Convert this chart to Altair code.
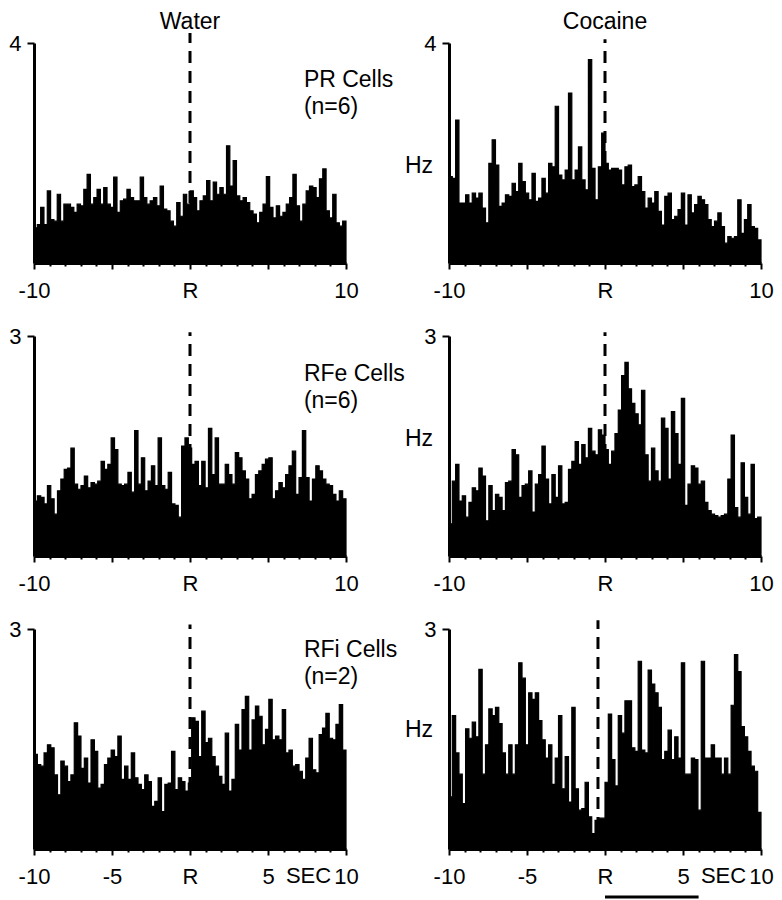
import altair as alt
import pandas as pd

# ---------------- data (firing rate in Hz per bin) ----------------
water_pr = [0.64, 0.70, 1.01, 0.70, 1.31, 0.79, 0.76, 1.25, 0.76, 1.07,
            1.07, 1.01, 0.92, 1.07, 1.04, 1.34, 1.61, 1.07, 1.19, 1.34,
            1.07, 1.37, 1.07, 1.01, 1.56, 0.92, 1.13, 1.16, 1.34, 1.19,
            1.13, 1.13, 1.56, 1.19, 1.07, 1.13, 1.19, 1.04, 1.40, 0.98,
            0.95, 0.76, 0.67, 1.10, 0.85, 1.25, 1.07, 1.31, 1.19, 0.95,
            1.13, 1.22, 1.50, 1.13, 1.47, 1.25, 1.37, 1.25, 2.13, 1.40,
            1.86, 1.22, 1.13, 1.19, 1.10, 0.95, 0.89, 0.73, 0.92, 1.07,
            1.57, 1.01, 0.82, 1.04, 0.85, 0.92, 1.07, 1.19, 1.61, 1.04,
            0.76, 1.07, 1.31, 1.40, 1.37, 1.19, 1.53, 1.71, 0.95, 0.82,
            1.25, 0.73, 0.67, 0.76]

cocaine_pr = [1.57, 1.54, 2.60, 1.09, 1.09, 1.24, 1.09, 1.27, 1.18, 1.27,
              1.00, 0.73, 1.81, 2.24, 1.78, 1.03, 1.09, 1.24, 1.21, 1.45,
              1.30, 1.81, 1.48, 1.27, 1.15, 1.63, 1.12, 1.18, 1.54, 1.27,
              1.81, 1.75, 2.85, 1.60, 1.51, 1.69, 3.09, 1.51, 1.69, 2.11,
              1.51, 1.33, 3.70, 1.72, 1.15, 1.75, 2.36, 1.81, 1.69, 1.72,
              1.72, 1.69, 1.42, 1.75, 1.78, 1.39, 1.42, 1.57, 1.30, 1.00,
              1.18, 1.09, 1.30, 0.94, 0.69, 1.21, 1.27, 0.79, 0.85, 0.97,
              1.27, 0.69, 1.24, 0.91, 1.06, 1.21, 1.15, 1.06, 0.79, 0.66,
              0.76, 0.91, 0.66, 0.36, 0.48, 0.45, 0.48, 1.15, 0.54, 0.79,
              1.06, 0.66, 0.63, 0.42]

water_rfe = [0.75, 0.82, 0.80, 0.71, 0.96, 0.78, 0.57, 0.89, 1.05, 1.18,
             1.20, 1.47, 0.98, 0.91, 0.96, 1.09, 0.93, 1.00, 0.98, 1.02,
             1.29, 1.18, 1.25, 1.61, 1.45, 0.98, 0.96, 0.98, 1.14, 0.87,
             1.71, 0.98, 1.34, 0.89, 1.02, 1.23, 0.96, 1.61, 0.96, 0.91,
             1.14, 0.71, 0.69, 0.53, 1.50, 1.61, 1.47, 1.25, 1.29, 0.96,
             1.29, 0.93, 1.74, 1.11, 1.61, 0.98, 0.98, 1.25, 1.11, 0.98,
             1.41, 1.34, 1.16, 1.05, 0.78, 0.84, 1.11, 1.16, 1.25, 1.32,
             1.34, 0.78, 0.89, 1.00, 0.93, 1.11, 1.23, 1.43, 0.84, 1.07,
             1.71, 1.07, 0.75, 1.05, 1.23, 1.16, 1.05, 0.98, 0.96, 0.84,
             0.75, 0.89, 0.78]

cocaine_rfe = [0.44, 1.02, 1.25, 0.75, 0.82, 0.53, 0.73, 0.93, 0.89, 1.20,
               1.09, 0.48, 0.96, 0.62, 0.84, 0.80, 0.62, 1.00, 1.02, 1.45,
               1.38, 0.80, 0.96, 0.98, 1.16, 0.60, 0.98, 1.11, 1.50, 1.05,
               0.71, 1.11, 0.80, 1.23, 0.71, 0.73, 1.18, 1.29, 1.56, 1.25,
               1.52, 1.34, 1.74, 1.43, 1.38, 1.72, 1.65, 1.45, 1.25, 1.43,
               1.67, 1.99, 2.46, 2.64, 2.28, 2.08, 1.94, 1.79, 2.26, 1.38,
               1.02, 1.47, 1.16, 1.02, 1.88, 1.74, 1.05, 1.97, 1.67, 1.25,
               2.15, 0.69, 0.98, 1.23, 1.20, 0.98, 1.02, 0.73, 0.62, 0.57,
               0.55, 0.53, 0.55, 0.57, 1.05, 1.65, 0.66, 0.53, 1.27, 0.80,
               0.57, 1.25, 0.51, 0.53]

water_rfi = [1.29, 1.15, 1.13, 1.31, 1.42, 1.38, 1.01, 0.74, 1.20, 1.13,
             0.92, 1.01, 1.72, 1.54, 1.10, 1.24, 0.90, 1.49, 1.33, 0.83,
             0.88, 1.15, 1.24, 1.35, 1.26, 1.54, 0.95, 1.13, 0.95, 1.31,
             0.97, 0.88, 0.81, 1.01, 0.92, 0.58, 0.65, 0.97, 0.51, 0.88,
             0.90, 1.33, 0.81, 0.97, 0.92, 0.79, 0.90, 1.79, 1.74, 1.26,
             1.88, 1.45, 1.51, 1.26, 1.13, 0.99, 0.88, 1.58, 0.79, 0.95,
             1.70, 1.35, 1.90, 2.08, 1.35, 1.76, 1.95, 1.81, 1.42, 1.63,
             2.04, 1.49, 1.54, 1.49, 1.90, 1.31, 1.35, 1.13, 1.15, 1.06,
             0.95, 1.24, 1.51, 1.08, 1.04, 1.56, 1.65, 1.85, 1.51, 1.49,
             1.70, 1.97, 1.35]

cocaine_rfi = [0.71, 1.82, 1.31, 1.02, 0.62, 1.64, 1.51, 1.73, 1.53, 2.45,
               1.02, 1.42, 1.91, 1.82, 1.93, 1.71, 1.31, 1.02, 1.42, 1.02,
               1.42, 2.54, 2.33, 1.42, 2.13, 2.04, 2.13, 1.75, 1.49, 1.24,
               1.42, 0.88, 1.24, 1.82, 0.82, 1.26, 0.64, 1.93, 0.82, 0.53,
               0.55, 0.91, 0.44, 0.21, 0.39, 0.42, 0.42, 0.91, 1.84, 1.22,
               0.86, 1.82, 1.58, 2.02, 2.02, 1.38, 1.33, 2.56, 1.35, 1.31,
               2.44, 2.25, 2.13, 1.93, 1.22, 1.33, 1.62, 1.22, 1.53, 1.24,
               2.54, 1.02, 1.02, 1.24, 1.22, 0.53, 2.56, 1.24, 1.24, 1.42,
               1.24, 1.24, 1.02, 1.24, 1.02, 1.96, 2.65, 2.42, 1.67, 1.53,
               1.33, 1.13, 1.06, 0.50]

series = [[water_pr, cocaine_pr], [water_rfe, cocaine_rfe], [water_rfi, cocaine_rfi]]
col_titles = ["Water", "Cocaine"]
row_labels = [["PR Cells", "(n=6)"], ["RFe Cells", "(n=6)"], ["RFi Cells", "(n=2)"]]
row_ymax = [4, 3, 3]
event_x = [[0, 0], [0, 0], [0, -0.45]]           # dashed event line (sec)
event_top = [[4.18, 4.07], [3.05, 3.05], [3.06, 3.12]]
label_pos = [[7.3, 3.2], [7.3, 2.38], [7.3, 2.62]]   # (sec, Hz) of cell labels
hz_y = [1.64, 1.5, 1.53]
sec_label = [7.6, -0.46]  # "SEC" unit label position (sec, Hz)
scale_bar = [0, 6]        # horizontal bar under bottom-right panel (sec)
scale_bar_y = -0.655

FONT = "Liberation Sans"
W, H = 312, 220


def panel(row, col):
    vals = series[row][col]
    n = len(vals)
    t = [-10 + 20 * i / n for i in range(n)] + [10]
    v = list(vals) + [vals[-1]]
    df = pd.DataFrame({"t": t, "v": v})
    ymax = row_ymax[row]
    xs = alt.Scale(domain=[-10, 10], nice=False, zero=False)
    ys = alt.Scale(domain=[0, ymax], nice=False, zero=False)
    if row == 2:
        lab = ("datum.value == -10 ? '-10' : datum.value == -5 ? '-5' : datum.value == 0 ? 'R' : "
               "datum.value == 5 ? '5' : datum.value == 10 ? '10' : ''")
    else:
        lab = "datum.value == -10 ? '-10' : datum.value == 0 ? 'R' : datum.value == 10 ? '10' : ''"
    xaxis = alt.Axis(values=list(range(-10, 11)), labelExpr=lab, title=None,
                     tickSize={"condition": {"test": "datum.value % 5 == 0", "value": 6}, "value": 3},
                     labelPadding=11, labelFlush=False, labelOverlap=False)
    yaxis = alt.Axis(values=[ymax], title=None, tickSize=7, labelPadding=6,
                     labelFlush=False, labelOverlap=False)

    def X(f):
        return alt.X(f, type="quantitative", scale=xs, axis=xaxis)

    def Y(f):
        return alt.Y(f, type="quantitative", scale=ys, axis=yaxis)

    hist = alt.Chart(df).mark_area(
        interpolate="step-after", color="black", stroke="black", strokeWidth=1.2
    ).encode(x=X("t"), y=Y("v"))

    ev = pd.DataFrame({"t": [event_x[row][col]], "v": [0], "v1": [event_top[row][col]]})
    rule = alt.Chart(ev).mark_rule(color="black", strokeWidth=3, strokeDash=[12, 8]).encode(
        x=X("t"), y=Y("v"), y2="v1:Q",
    )
    layers = [hist, rule]

    if row == 0:
        td = pd.DataFrame({"t": [0], "v": [ymax], "s": [col_titles[col]]})
        layers.append(alt.Chart(td).mark_text(
            font=FONT, fontSize=23, align="center", baseline="alphabetic", dy=-14, color="black"
        ).encode(x=X("t"), y=Y("v"), text="s:N"))

    if col == 0:
        ld = pd.DataFrame({"t": [label_pos[row][0]], "v": [label_pos[row][1]]})
        layers.append(alt.Chart(ld).mark_text(
            text=row_labels[row], font=FONT, fontSize=23, align="left", baseline="alphabetic",
            lineHeight=27, color="black"
        ).encode(x=X("t"), y=Y("v")))
    else:
        hd = pd.DataFrame({"t": [-10], "v": [hz_y[row]]})
        layers.append(alt.Chart(hd).mark_text(
            text="Hz", font=FONT, fontSize=23, align="right", baseline="alphabetic", dx=-16, color="black"
        ).encode(x=X("t"), y=Y("v")))

    if row == 2:
        sd = pd.DataFrame({"t": [sec_label[0]], "v": [sec_label[1]]})
        layers.append(alt.Chart(sd).mark_text(
            text="SEC", font=FONT, fontSize=22, align="center", baseline="alphabetic", color="black"
        ).encode(x=X("t"), y=Y("v")))

    if row == 2 and col == 1:
        bd = pd.DataFrame({"t": [scale_bar[0]], "t1": [scale_bar[1]], "v": [scale_bar_y]})
        layers.append(alt.Chart(bd).mark_rule(color="black", strokeWidth=3).encode(
            x=X("t"), x2="t1:Q", y=Y("v")))

    return alt.layer(*layers).properties(width=W, height=H)


panels = [panel(r, c) for r in range(3) for c in range(2)]

chart = alt.concat(
    *panels, columns=2, spacing={"row": 73, "column": 103}, bounds="flush"
).properties(
    padding={"top": 3, "left": 0, "right": 0, "bottom": 0}, background="white"
).configure_view(
    strokeWidth=0
).configure_axis(
    grid=False, domainColor="black", domainWidth=3, tickColor="black", tickWidth=2,
    labelColor="black", labelFont=FONT, labelFontSize=22
).configure_text(font=FONT)

chart.save("out.html", embed_options={"renderer": "svg", "actions": False})
